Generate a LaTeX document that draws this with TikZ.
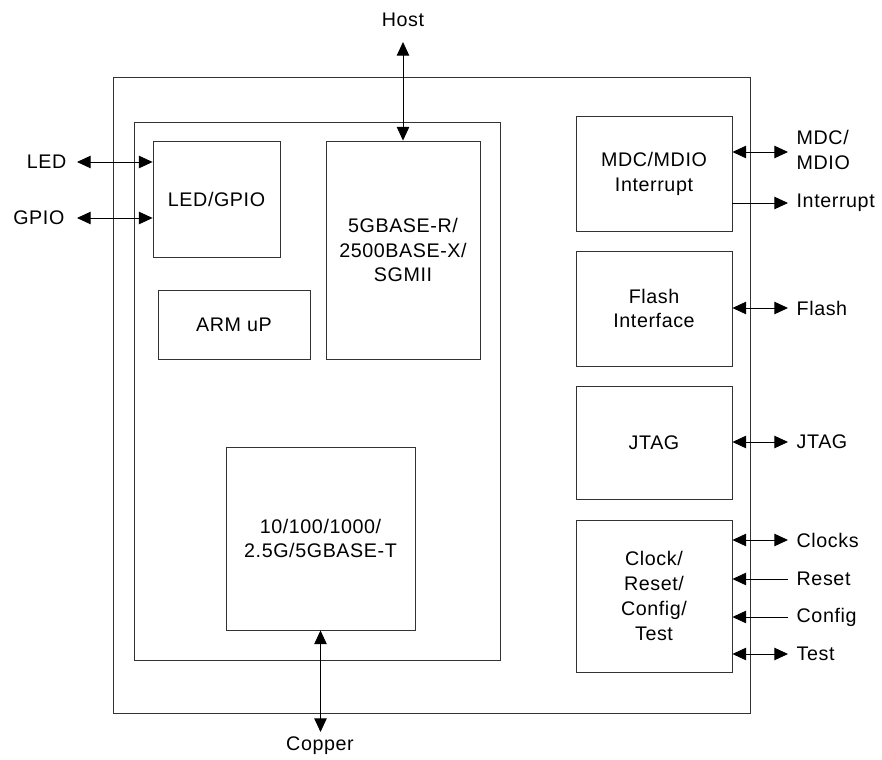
\documentclass[tikz,border=0pt]{standalone}
\usepackage{fontspec}
\setmainfont[LetterSpace=3]{Liberation Sans}
\usetikzlibrary{arrows.meta}
\tikzstyle{blk}=[draw=black!80, line width=.6pt, align=center, inner sep=0pt]
\tikzstyle{lbl}=[inner sep=1pt, align=left]
\tikzstyle{sig}=[line width=.6pt, >={Triangle[length=3.4mm,width=3.1mm]}]

\begin{document}
\begin{tikzpicture}[x=.025cm, y=-.025cm, font=\fontsize{14}{17.7}\selectfont]
    \useasboundingbox (0,0) rectangle (882,760);
    % boxes
    \node[blk, minimum width=15.9cm, minimum height=15.875cm] (chip) at (432,395.5) {};
    \node[blk, minimum width=9.15cm, minimum height=13.45cm] (core) at (317,391) {};
    \node[blk, minimum width=3.175cm, minimum height=2.9cm] (ledgpio) at (216.5,199) {LED/GPIO};
    \node[blk, minimum width=3.8cm, minimum height=1.725cm] (arm) at (234,324.5) {ARM uP};
    \node[blk, minimum width=3.85cm, minimum height=5.45cm] (serdes) at (403,250)
      {5GBASE-R/\\2500BASE-X/\\SGMII};
    \node[blk, minimum width=4.725cm, minimum height=4.575cm] (phy) at (320.5,538.5)
      {10/100/1000/\\2.5G/5GBASE-T};
    \node[blk, minimum width=3.9cm, minimum height=2.875cm] (mdio) at (654,173.5)
      {MDC/MDIO\\Interrupt};
    \node[blk, minimum width=3.9cm, minimum height=2.875cm] (flash) at (654,308.5)
      {Flash\\Interface};
    \node[blk, minimum width=3.9cm, minimum height=2.825cm] (jtag) at (654,442.5) {JTAG};
    \node[blk, minimum width=3.9cm, minimum height=3.8cm] (clock) at (654,596)
      {Clock/\\Reset/\\Config/\\Test};
    % pin ends
    \coordinate (ledend) at (77,162);
    \coordinate (gpioend) at (77,218);
    \coordinate (hostend) at (403,42);
    \coordinate (copperend) at (320,732);
    \coordinate (mdioend) at (788,152);
    \coordinate (intend) at (788,203);
    \coordinate (flashend) at (788,308);
    \coordinate (jtagend) at (788,442);
    \coordinate (clkend) at (788,540);
    \coordinate (rstend) at (788,579);
    \coordinate (cfgend) at (788,617);
    \coordinate (testend) at (788,654);
    % labels
    \node[lbl, anchor=east] (led) at (68,162) {LED};
    \node[lbl, anchor=east] (gpio) at (66,218) {GPIO};
    \node[lbl] (host) at (403,20) {Host};
    \node[lbl] (copper) at (320,746) {Copper};
    \node[lbl, anchor=west] (mdiolbl) at (795,150) {MDC/\\MDIO};
    \node[lbl, anchor=west] (intlbl) at (795,203) {Interrupt};
    \node[lbl, anchor=west] (flashlbl) at (795,308) {Flash};
    \node[lbl, anchor=west] (jtaglbl) at (795,442) {JTAG};
    \node[lbl, anchor=west] (clklbl) at (795,540) {Clocks};
    \node[lbl, anchor=west] (rstlbl) at (795,579) {Reset};
    \node[lbl, anchor=west] (cfglbl) at (795,617) {Config};
    \node[lbl, anchor=west] (testlbl) at (795,654) {Test};
    % connectors
    \foreach \from/\to in {ledend/ledgpio.west |- ledend, gpioend/ledgpio.west |- gpioend,
          hostend/hostend |- serdes.north, phy.south/phy.south |- copperend,
          mdio.east |- mdioend/mdioend, flash.east |- flashend/flashend,
          jtag.east |- jtagend/jtagend, clock.east |- clkend/clkend,
          clock.east |- testend/testend}
      \draw[sig, <->] (\from) -- (\to);
    \draw[sig, ->] (mdio.east |- intend) -- (intend);
    \foreach \from in {rstend, cfgend}
      \draw[sig, ->] (\from) -- (clock.east |- \from);
\end{tikzpicture}
\end{document}
